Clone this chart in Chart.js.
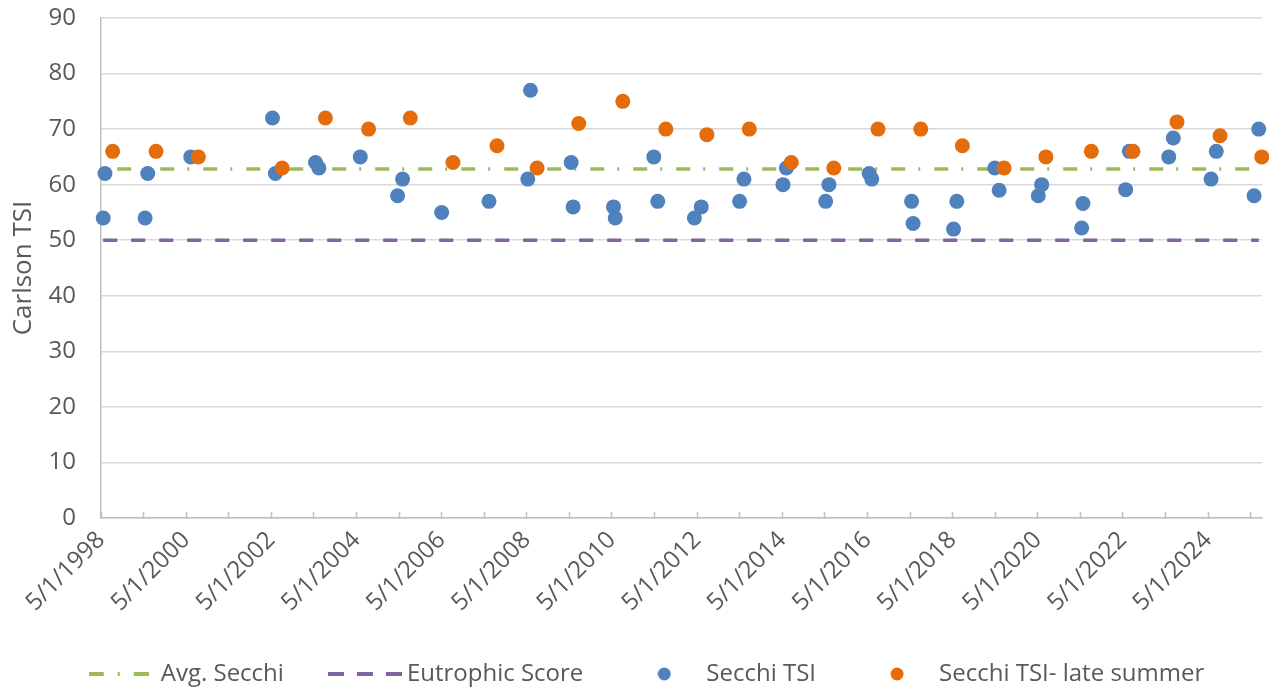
<!DOCTYPE html>
<html lang="en">
<head>
<meta charset="UTF-8">
<title>Carlson TSI</title>
<script src="https://cdn.jsdelivr.net/npm/chart.js@4.4.1/dist/chart.umd.min.js"></script>
<style>
  html, body { margin: 0; padding: 0; background: #fff; }
  .chart-box { width: 1270px; height: 692px; position: relative; }
</style>
</head>
<body>
<div class="chart-box"><canvas id="tsiChart"></canvas></div>
<script>
// sampling dates and Secchi TSI readings
const secchiDates = [
  '1998-05-20', '1998-06-04', '1999-05-14', '1999-06-06', '2000-06-09',
  '2002-05-11', '2002-06-05', '2003-05-15', '2003-06-13', '2004-06-02',
  '2005-04-18', '2005-05-31', '2006-05-01', '2007-06-11', '2008-05-09',
  '2008-06-01', '2009-05-16', '2009-06-02', '2010-05-14', '2010-05-29',
  '2011-04-25', '2011-05-29', '2012-04-07', '2012-06-05', '2013-04-30',
  '2013-06-06', '2014-05-07', '2014-06-05', '2015-05-08', '2015-06-05',
  '2016-05-15', '2016-06-07', '2017-05-14', '2017-05-27', '2018-05-09',
  '2018-06-06', '2019-04-28', '2019-06-04', '2020-05-05', '2020-06-03',
  '2021-05-12', '2021-05-23', '2022-05-24', '2022-06-25', '2023-05-29',
  '2023-07-07', '2024-05-26', '2024-07-10', '2025-05-30', '2025-07-09'
];
const secchiTSI = [
  54, 62, 54, 62, 65,
  72, 62, 64, 63, 65,
  58, 61, 55, 57, 61,
  77, 64, 56, 56, 54,
  65, 57, 54, 56, 57,
  61, 60, 63, 57, 60,
  62, 61, 57, 53, 52,
  57, 63, 59, 58, 60,
  52.2, 56.6, 59.1, 66, 65,
  68.4, 61, 66, 58, 70
];

const lateSummerDates = [
  '1998-08-09', '1999-08-16', '2000-08-13', '2002-08-02', '2003-08-08',
  '2004-08-12', '2005-08-05', '2006-08-06', '2007-08-19', '2008-07-28',
  '2009-07-20', '2010-08-02', '2011-08-06', '2012-07-23', '2013-07-22',
  '2014-07-17', '2015-07-17', '2016-07-30', '2017-08-01', '2018-07-24',
  '2019-07-17', '2020-07-09', '2021-08-03', '2022-07-26', '2023-08-08',
  '2024-08-11', '2025-08-04'
];
const lateSummerTSI = [
  66, 66, 65, 63, 72,
  70, 72, 64, 67, 63,
  71, 75, 70, 69, 70,
  64, 63, 70, 70, 67,
  63, 65, 66, 66, 71.3,
  68.8, 65
];

const avgSecchi = 62.8;
const eutrophicScore = 50;

const axisStart = '1998-05-01';
const axisEnd = '2025-08-06';
const xTickYears = [
  1998, 1999, 2000, 2001, 2002, 2003, 2004, 2005, 2006, 2007, 2008, 2009, 2010, 2011,
  2012, 2013, 2014, 2015, 2016, 2017, 2018, 2019, 2020, 2021, 2022, 2023, 2024, 2025
];
const yMin = 0;
const yMax = 90;

const BLUE = '#4F81BD';
const ORANGE = '#E46C0A';
const GREEN = '#9BBB59';
const PURPLE = '#8064A2';
const TEXT = '#595959';
const AXIS = '#BFBFBF';
const GRID = '#D9D9D9';
const FONT_SIZE = 24;

Chart.defaults.font.family = '"Open Sans", sans-serif';
Chart.defaults.color = TEXT;

const toTime = s => Date.parse(s);
const yearOf = v => new Date(v).getUTCFullYear();

// little legend samples
function lineIcon(color, dash, width) {
  const c = document.createElement('canvas');
  c.width = width; c.height = 6;
  const g = c.getContext('2d');
  g.strokeStyle = color;
  g.lineWidth = 4;
  g.setLineDash(dash);
  g.beginPath();
  g.moveTo(0, 3);
  g.lineTo(width, 3);
  g.stroke();
  return c;
}
function dotIcon(color) {
  const c = document.createElement('canvas');
  c.width = 14; c.height = 14;
  const g = c.getContext('2d');
  g.fillStyle = color;
  g.beginPath();
  g.arc(7, 7, 6.5, 0, Math.PI * 2);
  g.fill();
  return c;
}
const legendIcons = [
  lineIcon(GREEN, [15, 14, 2, 14], 60),
  lineIcon(PURPLE, [16, 13], 74),
  dotIcon(BLUE),
  dotIcon(ORANGE)
];

// short inward tick marks between the y gridlines
const yMinorTicks = {
  id: 'yMinorTicks',
  beforeDatasetsDraw(chart) {
    const y = chart.scales.y;
    const g = chart.ctx;
    g.save();
    g.strokeStyle = AXIS;
    g.lineWidth = 1.5;
    y.ticks.forEach(t => {
      if (t.value % 10 === 0) return;
      const py = y.getPixelForValue(t.value);
      g.beginPath();
      g.moveTo(y.right, py);
      g.lineTo(y.right + 5, py);
      g.stroke();
    });
    g.restore();
  }
};

const firstDate = toTime(secchiDates[0]);
const lastDate = toTime(secchiDates[secchiDates.length - 1]);

const ctx = document.getElementById('tsiChart').getContext('2d');
new Chart(ctx, {
  type: 'scatter',
  data: {
    datasets: [{
      label: 'Avg. Secchi',
      type: 'line',
      data: [{x: firstDate, y: avgSecchi}, {x: lastDate, y: avgSecchi}],
      borderColor: GREEN,
      borderWidth: 3.5,
      borderDash: [14, 13, 2, 14],
      borderDashOffset: 29,
      pointRadius: 0,
      order: 2
    }, {
      label: 'Eutrophic Score',
      type: 'line',
      data: [{x: firstDate, y: eutrophicScore}, {x: lastDate, y: eutrophicScore}],
      borderColor: PURPLE,
      borderWidth: 3.5,
      borderDash: [14, 14],
      pointRadius: 0,
      order: 3
    }, {
      label: 'Secchi TSI',
      data: secchiDates.map((d, i) => ({x: toTime(d), y: secchiTSI[i]})),
      backgroundColor: BLUE,
      borderColor: BLUE,
      borderWidth: 0,
      pointRadius: 7.5,
      pointHoverRadius: 7.5,
      clip: false,
      order: 1
    }, {
      label: 'Secchi TSI- late summer',
      data: lateSummerDates.map((d, i) => ({x: toTime(d), y: lateSummerTSI[i]})),
      backgroundColor: ORANGE,
      borderColor: ORANGE,
      borderWidth: 0,
      pointRadius: 7.5,
      pointHoverRadius: 7.5,
      clip: false,
      order: 0
    }]
  },
  options: {
    responsive: true,
    maintainAspectRatio: false,
    animation: false,
    layout: {
      padding: {top: 18, left: 31, right: 8, bottom: -4}
    },
    scales: {
      x: {
        type: 'linear',
        min: toTime(axisStart),
        max: toTime(axisEnd),
        afterBuildTicks: scale => {
          scale.ticks = xTickYears.map(y => ({value: toTime(y + '-05-01')}));
        },
        afterFit: scale => { scale.height = 93; },
        ticks: {
          autoSkip: false,
          maxRotation: 45,
          minRotation: 45,
          padding: 14,
          font: c => ({size: c.tick && yearOf(c.tick.value) % 2 === 0 ? FONT_SIZE : 1}),
          callback: value => {
            const y = yearOf(value);
            return y % 2 === 0 ? '5/1/' + y : '';
          }
        },
        grid: {
          drawOnChartArea: false,
          drawTicks: true,
          tickLength: -6,
          tickColor: AXIS,
          tickWidth: 1.5
        },
        border: {color: AXIS, width: 1.5}
      },
      y: {
        min: yMin,
        max: yMax,
        afterFit: scale => { scale.width = 70; },
        ticks: {
          stepSize: 5,
          padding: 0,
          font: {size: FONT_SIZE},
          callback: v => (v % 10 === 0 ? v : '')
        },
        grid: {
          color: c => (c.tick.value % 10 === 0 ? GRID : 'transparent'),
          lineWidth: 1.5,
          drawTicks: true,
          tickLength: 25,
          tickColor: 'transparent'
        },
        border: {color: AXIS, width: 1.5},
        title: {
          display: true,
          text: 'Carlson TSI',
          font: {size: 26},
          padding: {top: -23, bottom: 0}
        }
      }
    },
    plugins: {
      tooltip: {enabled: false},
      legend: {
        position: 'bottom',
        labels: {
          usePointStyle: true,
          pointStyleWidth: 60,
          padding: 51,
          font: {size: FONT_SIZE},
          color: TEXT,
          sort: (a, b) => a.datasetIndex - b.datasetIndex,
          generateLabels: chart => {
            const items = Chart.defaults.plugins.legend.labels.generateLabels(chart);
            items.forEach(it => { it.pointStyle = legendIcons[it.datasetIndex]; });
            return items;
          }
        }
      }
    }
  },
  plugins: [yMinorTicks]
});
</script>
</body>
</html>
